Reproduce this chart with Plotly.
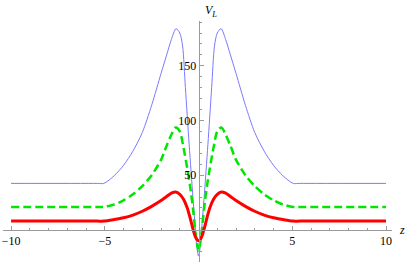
import plotly.graph_objects as go

# ---- data ----
z_blue = [-10, -5.4, -5.05, -4.5, -4.0, -3.5, -3.0, -2.5, -2.0, -1.7, -1.45, -1.2, -1.0, -0.85, -0.7, -0.5, -0.3, -0.2, -0.1, 0,
          0.1, 0.2, 0.3, 0.5, 0.7, 0.85, 1.0, 1.2, 1.45, 1.7, 2.0, 2.5, 3.0, 3.5, 4.0, 4.5, 5.05, 5.4, 10]
v_blue = [42.5, 42.5, 42.5, 49.5, 59, 72, 89, 114, 143, 160, 174, 184, 180, 168, 130, 78, 30, 8, -14, -24,
          -14, 8, 30, 78, 130, 168, 180, 184, 174, 160, 143, 114, 89, 72, 59, 49.5, 42.5, 42.5, 42.5]

z_green = [-10, -5.4, -5.05, -4.5, -4.0, -3.5, -3.0, -2.5, -2.0, -1.7, -1.45, -1.22, -1.0, -0.8, -0.6, -0.45, -0.3, -0.15, 0,
           0.15, 0.3, 0.45, 0.6, 0.8, 1.0, 1.22, 1.45, 1.7, 2.0, 2.5, 3.0, 3.5, 4.0, 4.5, 5.05, 5.4, 10]
v_green = [21, 21, 21, 23.2, 27, 32.5, 40, 50, 64, 77, 87, 93.5, 90, 75, 56, 40, 20, -4, -19,
           -4, 20, 40, 56, 75, 90, 93.5, 87, 77, 64, 50, 40, 32.5, 27, 23.2, 21, 21, 21]

z_red = [-10, -5.4, -5.05, -4.5, -4.0, -3.5, -3.0, -2.5, -2.0, -1.7, -1.45, -1.22, -1.0, -0.8, -0.6, -0.45, -0.3, -0.15, 0,
         0.15, 0.3, 0.45, 0.6, 0.8, 1.0, 1.22, 1.45, 1.7, 2.0, 2.5, 3.0, 3.5, 4.0, 4.5, 5.05, 5.4, 10]
v_red = [8, 8, 8, 9.4, 11, 13.5, 17, 21.5, 26.8, 30.5, 33.5, 34.6, 32.5, 28, 20, 11, 1, -7, -10,
         -7, 1, 11, 20, 28, 32.5, 34.6, 33.5, 30.5, 26.8, 21.5, 17, 13.5, 11, 9.4, 8, 8, 8]

x_ticks = [-10, -5, 5, 10]
x_ticklabels = ["\u221210", "\u22125", "5", "10"]
y_ticks = [50, 100, 150]
y_ticklabels = ["50", "100", "150"]

XMIN, XMAX = -10.43, 10.32
YMIN, YMAX = -29.4, 191.0

fig = go.Figure()
fig.add_trace(go.Scatter(x=z_blue, y=v_blue, mode="lines",
                         line=dict(color="#7a7aff", width=1, shape="spline", smoothing=0.8)))
fig.add_trace(go.Scatter(x=z_green, y=v_green, mode="lines",
                         line=dict(color="#00e600", width=2.5, dash="8px,4px", shape="spline", smoothing=0.8)))
fig.add_trace(go.Scatter(x=z_red, y=v_red, mode="lines",
                         line=dict(color="#ff0000", width=3, shape="spline", smoothing=0.8)))

SERIF = "Liberation Serif"
tickfont = dict(family=SERIF, size=12, color="#000")
axcol = "#9a9a9a"

fig.update_layout(
    width=409, height=264,
    margin=dict(l=3, r=17, t=21, b=2),
    paper_bgcolor="white", plot_bgcolor="white",
    showlegend=False,
    font=dict(family=SERIF, size=12, color="#000"),
    xaxis=dict(range=[XMIN, XMAX], showgrid=False, zeroline=False,
               showline=True, linecolor=axcol, linewidth=1,
               ticks="inside", ticklen=4, tickcolor=axcol, tickwidth=1,
               tickmode="array", tickvals=x_ticks, ticktext=x_ticklabels,
               tickfont=tickfont, anchor="free",
               position=(0 - YMIN) / (YMAX - YMIN),
               minor=dict(ticks="inside", ticklen=2, tickcolor=axcol,
                          tickmode="array",
                          tickvals=[i for i in range(-10, 11) if i % 5 != 0])),
    yaxis=dict(range=[YMIN, YMAX], showgrid=False, zeroline=False,
               showline=True, linecolor=axcol, linewidth=1,
               ticks="inside", ticklen=4, tickcolor=axcol, tickwidth=1,
               tickmode="array", tickvals=y_ticks, ticktext=y_ticklabels,
               tickfont=tickfont, anchor="free",
               position=(0 - XMIN) / (XMAX - XMIN),
               minor=dict(ticks="inside", ticklen=2, tickcolor=axcol,
                          tickmode="array",
                          tickvals=[i for i in range(-20, 191, 10) if i % 50 != 0])),
    annotations=[
        dict(x=0.25, y=1.0, xref="x", yref="paper", yanchor="bottom", xanchor="left",
             text="<i>V</i><sub><i>L</i></sub>", showarrow=False,
             font=dict(family=SERIF, size=12, color="#000")),
        dict(x=1.0, y=0, xref="paper", yref="y", xanchor="left", yanchor="middle",
             text="<i>z</i>", showarrow=False, xshift=5,
             font=dict(family=SERIF, size=12, color="#000")),
    ],
)

fig.write_html("out.html", config={"displayModeBar": False},
               post_script="document.body.style.margin='0px';")
